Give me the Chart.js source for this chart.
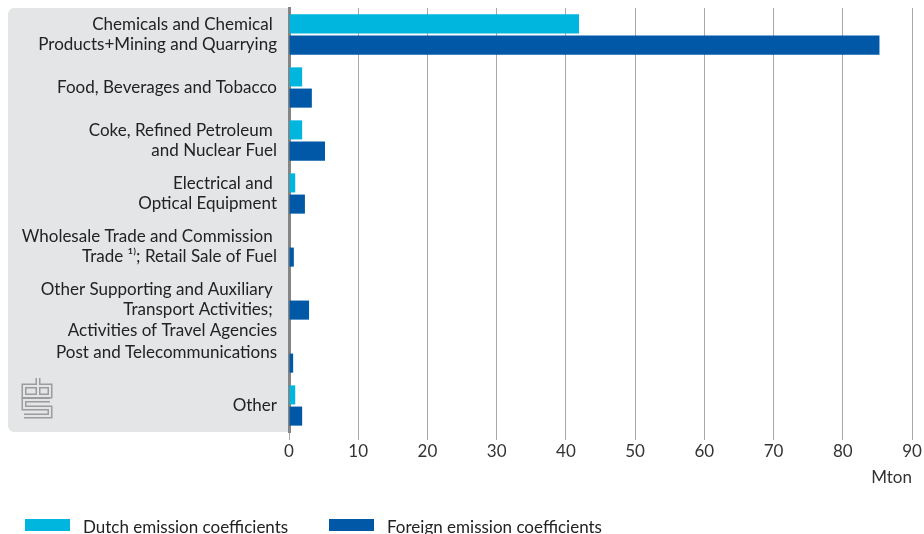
<!DOCTYPE html>
<html>
<head>
<meta charset="utf-8">
<script src="https://cdn.jsdelivr.net/npm/chart.js@4"></script>
<style>
  html, body { margin: 0; padding: 0; background: #fff; }
  #wrap { position: relative; width: 924px; height: 534px; overflow: hidden; }
  #legend { position: absolute; left: 25px; top: 517px; font: 17px Lato, sans-serif; color: #222; white-space: nowrap; }
  .item { position: absolute; top: 0; }
  .sw { position: absolute; top: 2px; width: 45px; height: 12px; }
  .lbl { position: absolute; left: 58px; top: 0; line-height: 19px; }
</style>
</head>
<body>
<div id="wrap">
  <canvas id="chart" width="924" height="534"></canvas>
  <div id="legend"></div>
</div>
<script>
const categories = [
  ['Chemicals and Chemical ', 'Products+Mining and Quarrying'],
  'Food, Beverages and Tobacco',
  ['Coke, Refined Petroleum ', 'and Nuclear Fuel'],
  ['Electrical and ', 'Optical Equipment'],
  ['Wholesale Trade and Commission ', 'Trade \u00b9\u207e; Retail Sale of Fuel'],
  ['', 'Other Supporting and Auxiliary ', 'Transport Activities; ', 'Activities of Travel Agencies'],
  'Post and Telecommunications',
  'Other'
];
const seriesNames = ['Dutch emission coefficients', 'Foreign emission coefficients'];
const dutchValues = [41.9, 1.9, 1.9, 0.9, 0, 0, 0, 0.9];
const foreignValues = [85.3, 3.3, 5.2, 2.3, 0.7, 2.9, 0.6, 1.9];
const xTicks = [0, 10, 20, 30, 40, 50, 60, 70, 80, 90];
const axisTitle = 'Mton';

const COLORS = ['#00b5de', '#0058a7'];
const FONT = { family: 'Lato, sans-serif', size: 17 };

// grey label panel + logo behind the category labels
const panelPlugin = {
  id: 'panel',
  beforeDraw(chart) {
    const { ctx, chartArea } = chart;
    ctx.save();
    ctx.fillStyle = '#e4e5e7';
    ctx.beginPath();
    ctx.roundRect(8, chartArea.top, chartArea.left - 8, chartArea.bottom - chartArea.top, [6, 0, 0, 6]);
    ctx.fill();

    // simplified cbs logo, outlined strokes
    const paths = [
      [[37, 386], [24, 386], [24, 396], [37, 396]],
      [[38, 378], [38, 396], [50, 396], [50, 386], [38, 386]],
      [[50, 400], [24, 400], [24, 408], [50, 408], [50, 416], [24, 416]]
    ];
    const strokeAll = (w, c) => {
      ctx.lineWidth = w; ctx.strokeStyle = c; ctx.lineJoin = 'miter';
      paths.forEach(p => {
        ctx.beginPath();
        p.forEach(([x, y], i) => i ? ctx.lineTo(x, y) : ctx.moveTo(x, y));
        ctx.stroke();
      });
    };
    strokeAll(5, '#9c9c9c');
    strokeAll(2, '#e4e5e7');
    ctx.restore();
  }
};

new Chart(document.getElementById('chart').getContext('2d'), {
  type: 'bar',
  data: {
    labels: categories,
    datasets: [
      { label: seriesNames[0], data: dutchValues, backgroundColor: COLORS[0], categoryPercentage: 0.8, barPercentage: 0.9 },
      { label: seriesNames[1], data: foreignValues, backgroundColor: COLORS[1], categoryPercentage: 0.8, barPercentage: 0.9 }
    ]
  },
  options: {
    indexAxis: 'y',
    responsive: false,
    animation: false,
    layout: { padding: { left: 8, top: 8, right: 12, bottom: 46 } },
    plugins: { legend: { display: false }, tooltip: { enabled: false } },
    scales: {
      x: {
        min: 0, max: 90,
        afterBuildTicks: (s) => { s.ticks = xTicks.map(v => ({ value: v })); },
        afterFit: (s) => { s.height = 56; s.paddingLeft = 0; s.paddingRight = 0; },
        ticks: { font: FONT, color: '#333', padding: 1 },
        grid: { color: '#a8a8a8', lineWidth: 1, tickLength: 8 },
        border: { display: false },
        title: { display: true, text: axisTitle, align: 'end', font: FONT, color: '#333', padding: 0 }
      },
      y: {
        afterFit: (s) => { s.width = 281; s.paddingTop = 0; s.paddingBottom = 0; },
        ticks: { font: { ...FONT, lineHeight: 1.22 }, color: '#222', padding: 12, autoSkip: false },
        grid: { display: false, drawTicks: false },
        border: { display: true, color: '#858585', width: 3 }
      }
    }
  },
  plugins: [panelPlugin]
});

const legend = document.getElementById('legend');
seriesNames.forEach((name, i) => {
  const item = document.createElement('div');
  item.className = 'item';
  item.style.left = (i * 304) + 'px';
  item.innerHTML = `<span class="sw" style="background:${COLORS[i]}"></span><span class="lbl">${name}</span>`;
  legend.appendChild(item);
});
</script>
</body>
</html>
